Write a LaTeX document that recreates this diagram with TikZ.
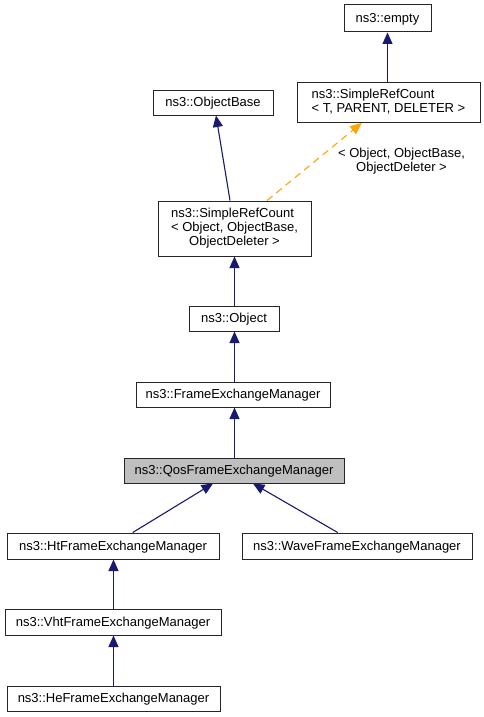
\documentclass[tikz,border=0pt]{standalone}
\usepackage{fontspec}
\setmainfont{Liberation Sans}
\usetikzlibrary{arrows.meta}
\definecolor{edgeblue}{HTML}{191970}
\definecolor{boxgray}{HTML}{BFBFBF}
\definecolor{tmplorange}{HTML}{FFA500}
\tikzset{
  cls/.style={draw=black!85, line width=1pt, rectangle, inner sep=0pt, align=center,
    font=\fontsize{13}{14.3}\selectfont, fill=white},
  one/.style={cls, text height=9.5pt, text depth=1.5pt},
  inh/.style={draw=edgeblue, line width=1.1pt, -{Triangle[length=11.5pt,width=10pt]}},
  tmpl/.style={draw=tmplorange, line width=1.1pt, dash pattern=on 7pt off 5pt,
    -{Triangle[length=11.5pt,width=10pt,fill=tmplorange]}},
  lbl/.style={align=center, inner sep=0pt, font=\fontsize{13}{14.3}\selectfont}
}
\begin{document}
\begin{tikzpicture}[x=1pt,y=-1pt]
\useasboundingbox (0,0) rectangle (484,717);
\node[one, minimum width=87pt, minimum height=27pt] (empty) at (387.5,18.5) {ns3::empty};
\node[cls, minimum width=183pt, minimum height=40pt] (srcT) at (388.5,102.5)
  {\begin{tabular}{@{}l@{}}ns3::SimpleRefCount\\< T, PARENT, DELETER >\end{tabular}};
\node[one, minimum width=120pt, minimum height=25pt] (objbase) at (213,102.5) {ns3::ObjectBase};
\node[cls, minimum width=153pt, minimum height=55pt] (srcO) at (234.5,228.5)
  {\begin{tabular}{@{}l@{}}ns3::SimpleRefCount\\< Object, ObjectBase,\\\multicolumn{1}{@{}c@{}}{ObjectDeleter >}\end{tabular}};
\node[one, minimum width=90pt, minimum height=25pt] (object) at (234,318.5) {ns3::Object};
\node[one, minimum width=194pt, minimum height=25pt] (fem) at (233,394.5) {ns3::FrameExchangeManager};
\node[one, fill=boxgray, minimum width=220pt, minimum height=25pt] (qos) at (234,470.5) {ns3::QosFrameExchangeManager};
\node[one, minimum width=212pt, minimum height=26pt] (ht) at (113,546) {ns3::HtFrameExchangeManager};
\node[one, minimum width=230pt, minimum height=26pt] (wave) at (357,546) {ns3::WaveFrameExchangeManager};
\node[one, minimum width=216pt, minimum height=26pt] (vht) at (113,622) {ns3::VhtFrameExchangeManager};
\node[one, minimum width=213pt, minimum height=25pt] (he) at (113.5,698.5) {ns3::HeFrameExchangeManager};
\node[lbl] (tlbl) at (401.5,161) {< Object, ObjectBase,\\ObjectDeleter >};

\draw[inh] ([xshift=-1pt]srcT.north) -- (empty.south);
\draw[inh] ([xshift=-4.5pt]srcO.north) -- ([xshift=3pt]objbase.south);
\draw[tmpl] ([xshift=32.5pt]srcO.north) -- ([xshift=-26.8pt]srcT.south);
\draw[inh] ([xshift=0.5pt]object.north) -- (srcO.south);
\draw[inh] ([xshift=1.5pt]fem.north) -- ([xshift=0.5pt]object.south);
\draw[inh] ([xshift=0.5pt]qos.north) -- ([xshift=1.5pt]fem.south);
\draw[inh] ([xshift=19.7pt]ht.north) -- ([xshift=-21pt]qos.south);
\draw[inh] ([xshift=-19.3pt]wave.north) -- ([xshift=19pt]qos.south);
\draw[inh] ([xshift=0.5pt]vht.north) -- ([xshift=0.5pt]ht.south);
\draw[inh] (he.north) -- ([xshift=0.5pt]vht.south);
\end{tikzpicture}
\end{document}
